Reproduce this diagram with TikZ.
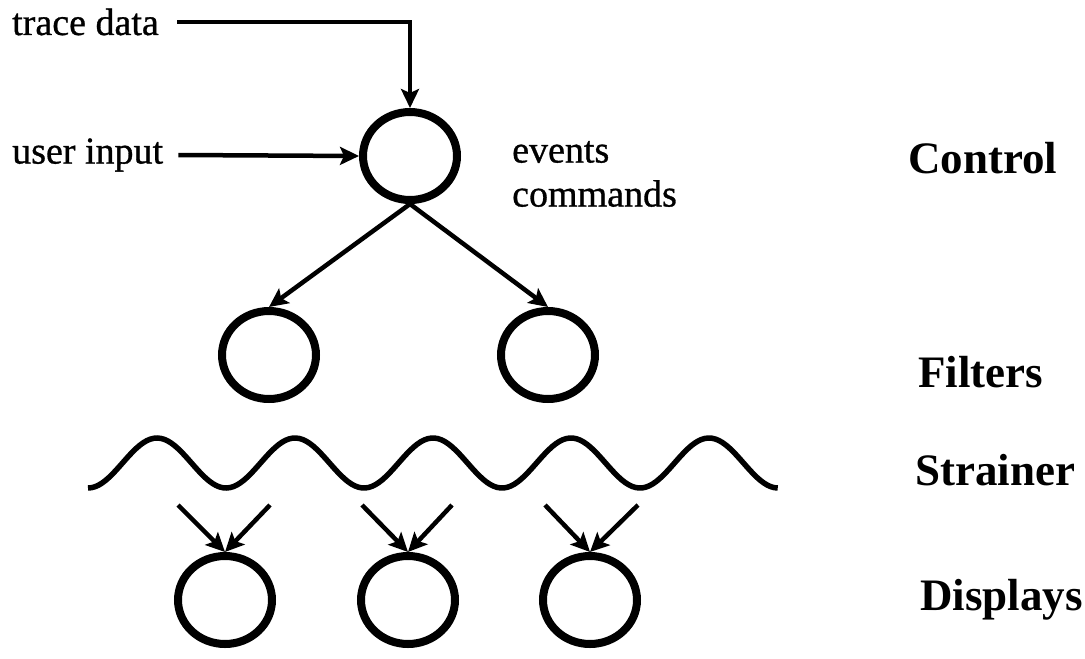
\documentclass[tikz,border=0pt]{standalone}
\usepackage{fontspec}
\setmainfont{Liberation Serif}
\newfontfamily\tagfont[UprightFeatures={FakeBold=0.8}]{Liberation Serif}
\usetikzlibrary{arrows.meta, shapes.geometric}

\begin{document}
\begin{tikzpicture}[
    x=1pt, y=-1pt,
    every node/.style={inner sep=0pt},
    proc/.style={
        ellipse,
        draw,
        line width=8pt,
        minimum width=94pt,
        minimum height=88pt
    },
    tag/.style={anchor=west, font=\tagfont\fontsize{38}{44}\selectfont},
    layer/.style={anchor=west, font=\fontsize{45}{52}\selectfont\bfseries},
    flow/.style={line width=4.5pt, -{Stealth[length=19pt, width=18pt, inset=4pt]}}
]

\useasboundingbox (0, 0) rectangle (1085, 659);

% layer names on the right
\node[layer] (lctrl) at (908, 158) {Control};
\node[layer] (lfilt) at (918, 372) {Filters};
\node[layer] (lstr)  at (915, 470) {Strainer};
\node[layer] (ldisp) at (920, 600) {Displays};

% control process and its inputs
\node[proc] (ctrl) at (410, 156) {};
\node[tag] (trace) at (12, 22) {trace data};
\node[tag] (user)  at (12, 155) {user input};
\draw[flow] (trace.east) ++(18, 0) -| (ctrl.north);
\draw[flow] (user.east) ++(15, 0) -- (ctrl.west);
\node[tag, align=left] (evt) at (512, 174) {events\\commands};

% filters
\node[proc] (filt1) at (269, 355) {};
\node[proc] (filt2) at (548, 355) {};
\draw[flow] (ctrl.south) -- (filt1.north);
\draw[flow] (ctrl.south) -- (filt2.north);

% strainer
\draw[line width=5.5pt] plot[domain=0:5, samples=200]
    ({88 + 138*\x}, {463 + 25*cos(360*\x)});

% displays
\node[proc] (disp1) at (225, 600) {};
\node[proc] (disp2) at (408, 600) {};
\node[proc] (disp3) at (590, 600) {};
\coordinate (in1a) at (178, 505);
\coordinate (in1b) at (270, 505);
\coordinate (in2a) at (362, 505);
\coordinate (in2b) at (452, 505);
\coordinate (in3a) at (545, 505);
\coordinate (in3b) at (638, 505);
\draw[flow] (in1a) -- (disp1.north);
\draw[flow] (in1b) -- (disp1.north);
\draw[flow] (in2a) -- (disp2.north);
\draw[flow] (in2b) -- (disp2.north);
\draw[flow] (in3a) -- (disp3.north);
\draw[flow] (in3b) -- (disp3.north);

\end{tikzpicture}
\end{document}
